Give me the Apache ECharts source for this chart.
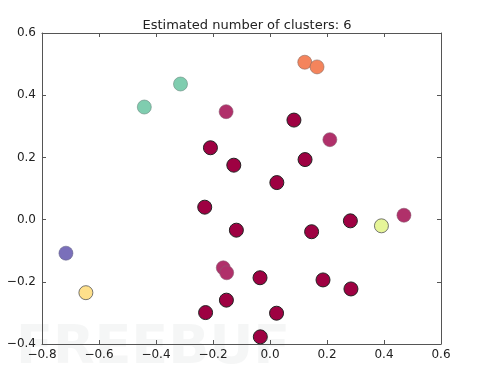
<!DOCTYPE html>
<html>
<head>
<meta charset="utf-8">
<script src="https://cdn.jsdelivr.net/npm/echarts@6/dist/echarts.min.js"></script>
<style>
  html, body { margin: 0; padding: 0; background: #fff; }
  #chart { width: 481px; height: 376px; }
</style>
</head>
<body>
<div id="chart"></div>
<script>
// cluster points, [x, y]
const coreDark = [
  [0.084, 0.320], [-0.209, 0.231], [-0.127, 0.175], [0.123, 0.193],
  [0.024, 0.119], [-0.229, 0.040], [-0.118, -0.034], [0.146, -0.039],
  [0.282, -0.004], [-0.035, -0.187], [0.186, -0.194], [-0.153, -0.259],
  [-0.226, -0.299], [0.023, -0.301], [-0.034, -0.377], [0.284, -0.223]
]
const edgeMagenta = [
  [-0.154, 0.347], [0.210, 0.257], [0.470, 0.014], [-0.164, -0.155], [-0.152, -0.171]
]
const orangePts = [[0.122, 0.506], [0.165, 0.491]]
const tealPts = [[-0.314, 0.436], [-0.441, 0.362]]
const limePts = [[0.391, -0.020]]
const purplePts = [[-0.716, -0.108]]
const yellowPts = [[-0.646, -0.235]]

const titleText = 'Estimated number of clusters: 6'

const chart = echarts.init(document.getElementById('chart'))

const fmt = v => v.toFixed(1).replace('-', '\u2212')

const baseAxis = {
  type: 'value',
  interval: 0.2,
  axisLine: { show: true, onZero: false, lineStyle: { color: '#555', width: 1 } },
  axisTick: { show: true, inside: true, length: 4, lineStyle: { color: '#555' } },
  splitLine: { show: false },
  axisLabel: { color: '#222', fontSize: 12, fontFamily: 'DejaVu Sans', formatter: fmt }
}

const dot = (name, data, color, edge, edgeW) => ({
  name,
  type: 'scatter',
  data,
  symbolSize: 14,
  itemStyle: { color, borderColor: edge, borderWidth: edgeW, opacity: 1 },
  emphasis: { disabled: true }
})

chart.setOption({
  animation: false,
  title: {
    text: titleText,
    left: 242,
    textAlign: 'center',
    top: 14,
    textStyle: { fontSize: 13, fontWeight: 'normal', color: '#222', fontFamily: 'DejaVu Sans' }
  },
  grid: { left: 42, right: 40, top: 33, bottom: 32 },
  xAxis: [
    Object.assign({}, baseAxis, { min: -0.8, max: 0.6, position: 'bottom',
      axisLabel: Object.assign({}, baseAxis.axisLabel, { margin: 5 }) }),
    Object.assign({}, baseAxis, { min: -0.8, max: 0.6, position: 'top', axisLabel: { show: false } })
  ],
  yAxis: [
    Object.assign({}, baseAxis, { min: -0.4, max: 0.6, position: 'left',
      axisLabel: Object.assign({}, baseAxis.axisLabel, { margin: 6 }) }),
    Object.assign({}, baseAxis, { min: -0.4, max: 0.6, position: 'right', axisLabel: { show: false } })
  ],
  graphic: [{
    type: 'text',
    left: 16,
    top: 322,
    z: -10,
    silent: true,
    style: { text: 'FREEBUF', fontSize: 54, fontWeight: 'bold', fontFamily: 'DejaVu Sans',
      fill: 'rgba(215,220,220,0.25)' }
  }],
  series: [
    dot('magenta', edgeMagenta, '#b0306a', '#8a5a70', 0.6),
    dot('core', coreDark, '#9e0142', '#222', 1),
    dot('orange', orangePts, '#f4845c', '#8a6a60', 0.6),
    dot('teal', tealPts, '#7fcdaf', '#6a8a80', 0.6),
    dot('lime', limePts, '#e6f598', '#555', 0.8),
    dot('purple', purplePts, '#7a6fba', '#6a6a8a', 0.6),
    dot('yellow', yellowPts, '#fee08b', '#555', 0.8)
  ]
})
</script>
</body>
</html>
